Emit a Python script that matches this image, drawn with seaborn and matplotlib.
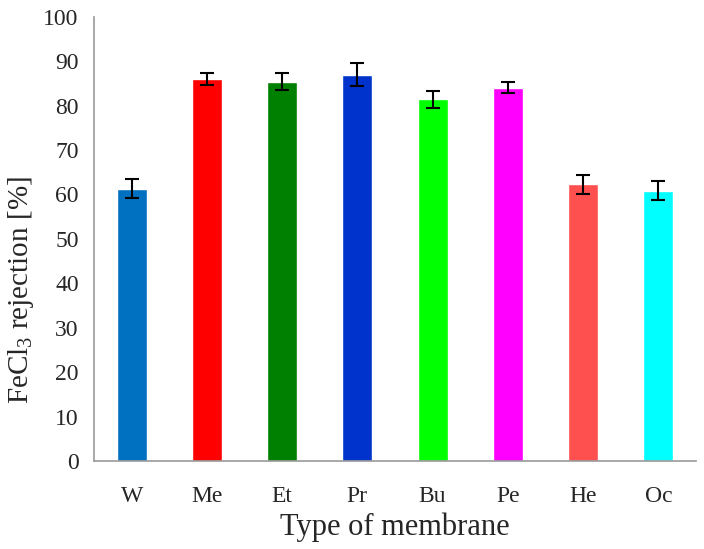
import matplotlib
matplotlib.use("Agg")
import matplotlib.pyplot as plt
import seaborn as sns
import numpy as np
import pandas as pd

membranes = ["W", "Me", "Et", "Pr", "Bu", "Pe", "He", "Oc"]
rejection = [61.3, 86.0, 85.4, 86.9, 81.4, 84.0, 62.3, 60.8]
errors = [2.1, 1.4, 2.0, 2.6, 1.95, 1.25, 2.1, 2.15]
colors = ["#0070C0", "#FF0000", "#008000", "#0033CC", "#00FF00", "#FF00FF", "#FF5050", "#00FFFF"]

df = pd.DataFrame({"membrane": membranes, "rejection": rejection})

sns.set_style("white")
plt.rcParams["font.family"] = ["Liberation Serif", "DejaVu Serif"]
plt.rcParams["mathtext.fontset"] = "custom"
plt.rcParams["mathtext.rm"] = "Liberation Serif"

fig = plt.figure(figsize=(7.04, 5.49), dpi=100)
ax = fig.add_axes([0.1335, 0.1603, 0.8551, 0.8093])

sns.barplot(data=df, x="membrane", y="rejection", hue="membrane",
            palette=colors, width=0.4, legend=False, ax=ax, saturation=1)
ax.errorbar(np.arange(len(membranes)), rejection, yerr=errors, fmt="none",
            ecolor="black", elinewidth=1.5, capsize=5, capthick=1.5)

ax.set_xlim(-0.5, len(membranes) - 0.5)
ax.set_ylim(0, 100)
ax.set_yticks(range(0, 101, 10))
ax.set_xticks(np.arange(-0.5, len(membranes), 1), minor=True)
ax.tick_params(axis="x", which="major", length=0, pad=18, labelsize=17)
ax.tick_params(axis="x", which="minor", length=6, color="#999999", width=1.2)
ax.tick_params(axis="y", length=6, color="#999999", width=1.2, labelsize=17, pad=5)

for side in ["top", "right"]:
    ax.spines[side].set_visible(False)
for side in ["left", "bottom"]:
    ax.spines[side].set_color("#999999")
    ax.spines[side].set_linewidth(1.2)

ax.set_xlabel("Type of membrane", fontsize=22, labelpad=4)
ax.set_ylabel("FeCl$_\\mathrm{3}$ rejection [%]", fontsize=21)
ax.yaxis.set_label_coords(-0.096, 0.385)

fig.savefig("out.png", dpi=100)
